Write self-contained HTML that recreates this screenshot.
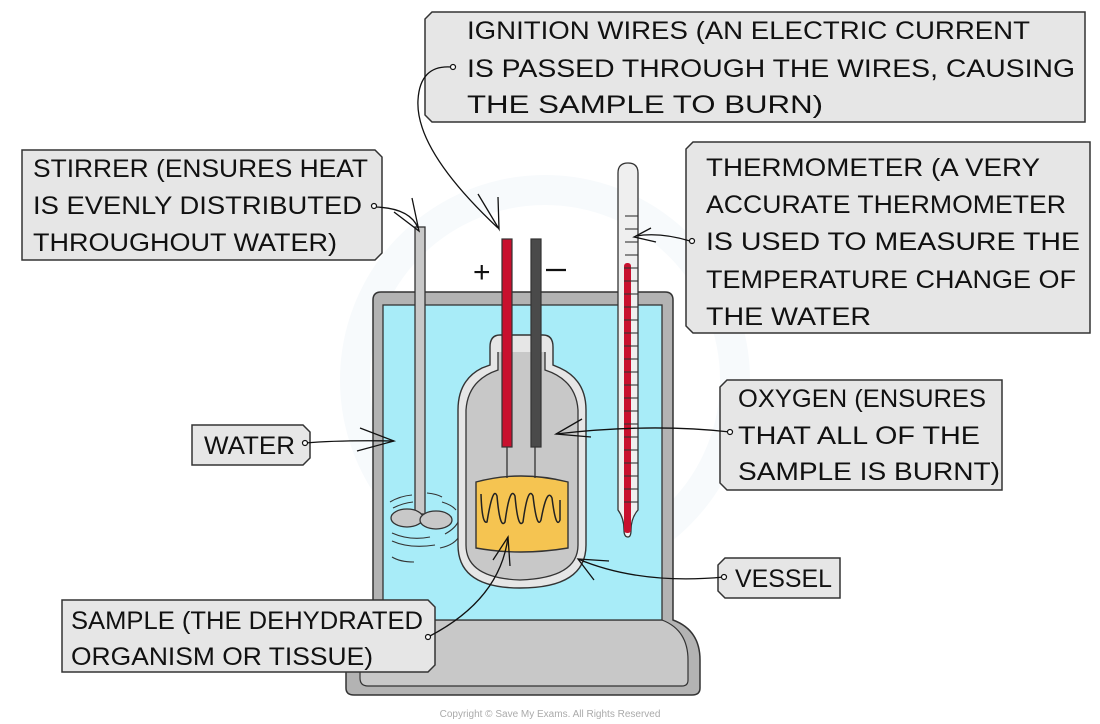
<!DOCTYPE html>
<html><head><meta charset="utf-8"><style>
html,body{margin:0;padding:0;background:#fff;}
svg{display:block;}
text{font-family:"Liberation Sans",sans-serif;font-size:25px;fill:#111;}
</style></head><body>
<svg width="1100" height="724" viewBox="0 0 1100 724" xmlns="http://www.w3.org/2000/svg">
<circle cx="545" cy="380" r="190" fill="none" stroke="#f7fafc" stroke-width="30"/>

<path d="M373 300 Q373 292 381 292 L665 292 Q673 292 673 300 L673 620 Q700 630 700 660 L700 688 Q700 695 692 695 L354 695 Q346 695 346 688 L346 640 Q346 622 373 620 Z" fill="#b3b3b3" stroke="#333" stroke-width="1.5"/>
<path d="M383 620 L662 620 Q688 630 688 660 L688 680 Q688 686 682 686 L368 686 Q360 686 360 678 L360 645 Q362 624 383 620 Z" fill="#c8c8c8" stroke="#333" stroke-width="1.2"/>
<rect x="383" y="305" width="279" height="315" fill="#a8ecf8" stroke="#333" stroke-width="1.3"/>

<rect x="415" y="227" width="10" height="287" fill="#c8c8c8" stroke="#333" stroke-width="1.3"/>
<ellipse cx="407" cy="518" rx="16" ry="9" fill="#c8c8c8" stroke="#333" stroke-width="1.3"/>
<ellipse cx="436" cy="520" rx="16" ry="9" fill="#c8c8c8" stroke="#333" stroke-width="1.3"/>
<g fill="none" stroke="#333" stroke-width="1.1">
<path d="M390 502 Q400 496 412 495"/><path d="M427 493 Q437 494 442 497"/>
<path d="M393 508 Q403 503 413 502"/><path d="M442 502 Q452 505 456 510"/>
<path d="M392 533 Q410 541 430 537"/><path d="M445 534 Q456 528 459 520"/>
<path d="M392 541 Q410 549 435 545"/><path d="M440 548 Q455 545 460 535"/>
<path d="M392 557 Q400 562 414 562"/>
</g>

<path d="M490 347 Q490 335 500 335 L543 335 Q553 335 553 347 L553 365 L560 368 Q586 380 586 410 L586 545 Q586 588 520 588 Q458 588 458 545 L458 410 Q458 380 482 368 L490 365 Z" fill="#e6e6e6" stroke="#333" stroke-width="1.4"/>
<path d="M498 352 L498 370 Q468 380 466 410 L466 545 Q466 578 520 580 Q578 578 578 545 L578 410 Q576 380 545 370 L545 352" fill="#c8c8c8" stroke="#333" stroke-width="1.3"/>
<path d="M476 482 Q520 470 568 482 L568 548 Q520 556 476 548 Z" fill="#f5c451" stroke="#333" stroke-width="1.4"/>
<path d="M507 478 L507 447 M535 478 L535 447" stroke="#333" stroke-width="1.3" fill="none"/>
<path d="M481 494 Q482 525 487 522 Q493 485 497 496 Q500 530 505 522 Q510 485 515 496 Q518 530 523 522 Q528 485 533 496 Q537 530 541 520 Q547 487 552 498 Q556 530 560 520 L560 500" fill="none" stroke="#222" stroke-width="1.5"/>
<rect x="502" y="239" width="10" height="208" fill="#c8102e" stroke="#333" stroke-width="1.2"/>
<rect x="531" y="239" width="10" height="208" fill="#4a4a4a" stroke="#333" stroke-width="1.2"/>
<text x="473" y="282" style="font-size:30px">+</text>
<path d="M546 270 L566 270" stroke="#111" stroke-width="2.2"/>

<path d="M618 173 Q618 163 628 163 Q638 163 638 173 L638 510 Q631 518 631 530 Q631 537 628 537 Q624 537 624 530 Q624 518 618 510 Z" fill="#efefef" stroke="#333" stroke-width="1.3"/>
<rect x="624" y="263" width="7" height="270" rx="3" fill="#c8102e"/>
<g stroke="#333" stroke-width="1.1">
<line x1="625" y1="216" x2="638" y2="216"/><line x1="625" y1="229" x2="638" y2="229"/><line x1="625" y1="242" x2="638" y2="242"/><line x1="625" y1="255" x2="638" y2="255"/>
<line x1="624" y1="268" x2="638" y2="268"/><line x1="624" y1="281" x2="638" y2="281"/><line x1="624" y1="294" x2="638" y2="294"/><line x1="624" y1="307" x2="638" y2="307"/>
<line x1="624" y1="320" x2="638" y2="320"/><line x1="624" y1="333" x2="638" y2="333"/><line x1="624" y1="346" x2="638" y2="346"/><line x1="624" y1="359" x2="638" y2="359"/>
<line x1="624" y1="372" x2="638" y2="372"/><line x1="624" y1="385" x2="638" y2="385"/><line x1="624" y1="398" x2="638" y2="398"/><line x1="624" y1="411" x2="638" y2="411"/>
<line x1="624" y1="424" x2="638" y2="424"/><line x1="624" y1="437" x2="638" y2="437"/><line x1="624" y1="450" x2="638" y2="450"/><line x1="624" y1="463" x2="638" y2="463"/>
<line x1="624" y1="476" x2="638" y2="476"/><line x1="624" y1="489" x2="638" y2="489"/><line x1="624" y1="502" x2="638" y2="502"/>
</g>

<g fill="#e6e6e6" stroke="#333" stroke-width="1.5">
<path d="M432 12 L1085 12 L1085 122 L432 122 L425 115 L425 19 Z"/>
<path d="M22 150 L375 150 L382 157 L382 253 L375 260 L22 260 Z"/>
<path d="M693 142 L1090 142 L1090 333 L693 333 L686 326 L686 149 Z"/>
<path d="M727 380 L1002 380 L1002 490 L727 490 L720 483 L720 387 Z"/>
<path d="M192 425 L303 425 L310 432 L310 458 L303 465 L192 465 Z"/>
<path d="M725 558 L840 558 L840 598 L725 598 L718 591 L718 565 Z"/>
<path d="M62 600 L428 600 L435 607 L435 665 L428 672 L62 672 Z"/>
</g>

<g fill="none" stroke="#111" stroke-width="1.3">
<path d="M451 67 Q420 65 418 100 Q415 150 498 228"/><path d="M478 194 L499 229 L498 197"/>
<path d="M375 207 Q410 208 418 228"/><path d="M394 212 L419 231 L412 198"/>
<path d="M690 241 Q660 232 636 236"/><path d="M651 228 L634 237 L656 242"/>
<path d="M730 432 Q650 423 556 434"/><path d="M582 419 L556 434 L591 437"/>
<path d="M305 443 Q340 440 394 441"/><path d="M360 428 L394 441 L357 451"/>
<path d="M724 577 Q640 585 578 559"/><path d="M609 561 L578 559 L594 580"/>
<path d="M428 637 Q500 600 508 537"/><path d="M493 560 L508 537 L510 566"/>
</g>
<g fill="#fff" stroke="#111" stroke-width="1.2">
<circle cx="453" cy="67" r="2.5"/><circle cx="374" cy="206" r="2.5"/><circle cx="692" cy="241" r="2.5"/>
<circle cx="730" cy="432" r="2.5"/><circle cx="305" cy="443" r="2.5"/><circle cx="724" cy="577" r="2.5"/><circle cx="428" cy="637" r="2.5"/>
</g>

<g>
<text x="467" y="39" textLength="563" lengthAdjust="spacingAndGlyphs">IGNITION WIRES (AN ELECTRIC CURRENT</text>
<text x="467" y="77" textLength="608" lengthAdjust="spacingAndGlyphs">IS PASSED THROUGH THE WIRES, CAUSING</text>
<text x="467" y="113" textLength="356" lengthAdjust="spacingAndGlyphs">THE SAMPLE TO BURN)</text>
<text x="33" y="177" textLength="335" lengthAdjust="spacingAndGlyphs">STIRRER (ENSURES HEAT</text>
<text x="33" y="214" textLength="329" lengthAdjust="spacingAndGlyphs">IS EVENLY DISTRIBUTED</text>
<text x="33" y="251" textLength="304" lengthAdjust="spacingAndGlyphs">THROUGHOUT WATER)</text>
<text x="706" y="176" textLength="334" lengthAdjust="spacingAndGlyphs">THERMOMETER (A VERY</text>
<text x="706" y="213" textLength="360" lengthAdjust="spacingAndGlyphs">ACCURATE THERMOMETER</text>
<text x="706" y="250" textLength="374" lengthAdjust="spacingAndGlyphs">IS USED TO MEASURE THE</text>
<text x="706" y="288" textLength="370" lengthAdjust="spacingAndGlyphs">TEMPERATURE CHANGE OF</text>
<text x="706" y="325" textLength="165" lengthAdjust="spacingAndGlyphs">THE WATER</text>
<text x="738" y="407" textLength="248" lengthAdjust="spacingAndGlyphs">OXYGEN (ENSURES</text>
<text x="738" y="444" textLength="242" lengthAdjust="spacingAndGlyphs">THAT ALL OF THE</text>
<text x="738" y="480" textLength="262" lengthAdjust="spacingAndGlyphs">SAMPLE IS BURNT)</text>
<text x="204" y="454" textLength="91" lengthAdjust="spacingAndGlyphs">WATER</text>
<text x="735" y="587" textLength="97" lengthAdjust="spacingAndGlyphs">VESSEL</text>
<text x="71" y="629" textLength="352" lengthAdjust="spacingAndGlyphs">SAMPLE (THE DEHYDRATED</text>
<text x="71" y="665" textLength="302" lengthAdjust="spacingAndGlyphs">ORGANISM OR TISSUE)</text>
</g>

<text x="550" y="717" text-anchor="middle" style="font-size:10px;fill:#aaa">Copyright © Save My Exams. All Rights Reserved</text>
</svg>
</body></html>
